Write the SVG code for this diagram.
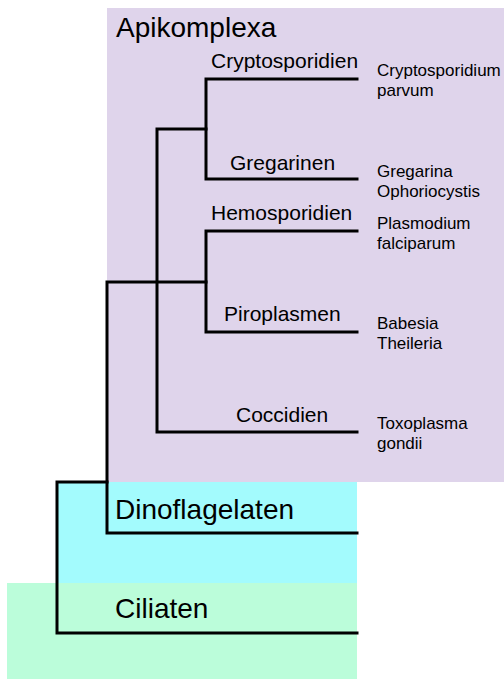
<svg xmlns="http://www.w3.org/2000/svg" width="504" height="679" viewBox="0 0 504 679">
<style>
text{font-family:"Liberation Sans",Arial,sans-serif;fill:#000}
.big{font-size:28px}
.lbl{font-size:21px}
.sp{font-size:17px}
.br{fill:none;stroke:#000;stroke-width:3;stroke-linecap:square;stroke-linejoin:miter}
</style>
<rect width="504" height="679" fill="#fff"/>
<g id="apikomplexa-box"><rect x="107" y="8" width="397" height="474" fill="#DFD4EB"/><text class="big" x="116" y="37">Apikomplexa</text></g>
<g id="dinoflagelaten-box"><rect x="57" y="482" width="300" height="101" fill="#A3FBFD"/><text class="big" x="115" y="519">Dinoflagelaten</text></g>
<g id="ciliaten-box"><rect x="7" y="583" width="350" height="96" fill="#BBFDDA"/><text class="big" x="115" y="618">Ciliaten</text></g>
<g id="cryptosporidien"><text class="lbl" x="211" y="68">Cryptosporidien</text><text class="sp" x="377" y="76">Cryptosporidium</text><text class="sp" x="377" y="96">parvum</text></g>
<g id="gregarinen"><text class="lbl" x="230" y="170">Gregarinen</text><text class="sp" x="377" y="177">Gregarina</text><text class="sp" x="377" y="197">Ophoriocystis</text></g>
<g id="hemosporidien"><text class="lbl" x="211" y="220">Hemosporidien</text><text class="sp" x="377" y="229">Plasmodium</text><text class="sp" x="377" y="249">falciparum</text></g>
<g id="piroplasmen"><text class="lbl" x="224" y="321">Piroplasmen</text><text class="sp" x="377" y="329">Babesia</text><text class="sp" x="377" y="349">Theileria</text></g>
<g id="coccidien"><text class="lbl" x="236" y="422">Coccidien</text><text class="sp" x="377" y="429">Toxoplasma</text><text class="sp" x="377" y="449">gondii</text></g>
<g id="connectors">
<path class="br" d="M107,482 H57 V633 H357"/>
<path class="br" d="M206,282 H107 V533 H357"/>
<path class="br" d="M357,231 H206 V332 H357"/>
<path class="br" d="M357,79 H206 V179 H357"/>
<path class="br" d="M206,129 H157 V432 H357"/>
</g>
</svg>
